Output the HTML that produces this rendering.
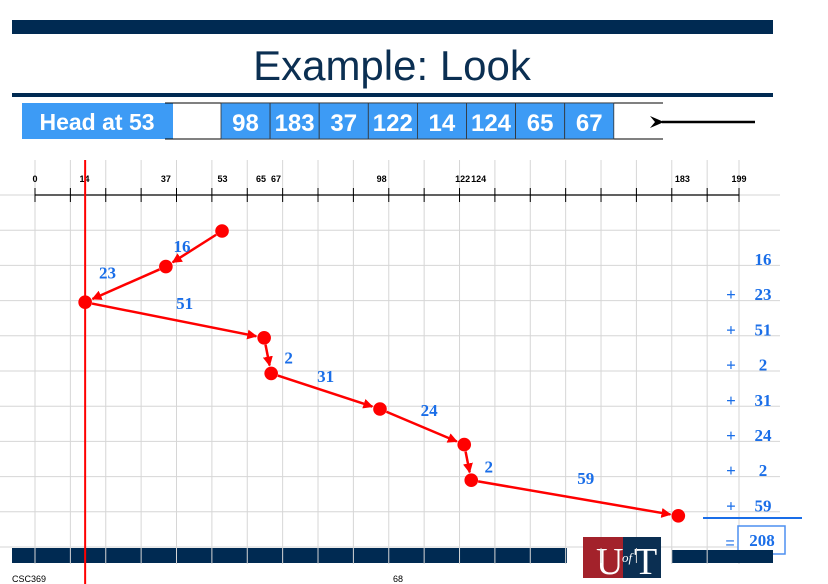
<!DOCTYPE html>
<html><head><meta charset="utf-8"><style>
body{margin:0;width:828px;height:584px;overflow:hidden;background:#fff;font-family:"Liberation Sans",sans-serif}
svg{display:block}
</style></head><body>
<svg id="c" width="828" height="584" xmlns="http://www.w3.org/2000/svg">
<defs><marker id="ah" markerWidth="10" markerHeight="10" refX="9" refY="5" orient="auto" markerUnits="userSpaceOnUse"><path d="M0,0 L10,5 L0,10 z" fill="#f00"/></marker>
<marker id="bh" markerWidth="14" markerHeight="12" refX="2" refY="6" orient="auto" markerUnits="userSpaceOnUse"><path d="M14,0 L0,6 L14,12 L9,6 z" fill="#000"/></marker></defs>
<g id="grid"></g>
<rect x="12" y="20" width="761" height="14" fill="#002a52"/>
<text x="392" y="80" text-anchor="middle" font-size="42" fill="#0b2f52">Example: Look</text>
<rect x="12" y="93" width="761" height="4" fill="#002a52"/>
<g id="queue">
<rect x="22" y="103" width="151" height="36" fill="#3d9bf5"/>
<text x="97" y="130" text-anchor="middle" font-size="23" font-weight="bold" fill="#fff">Head at 53</text>
<line x1="165" y1="103" x2="663" y2="103" stroke="#000"/><line x1="165" y1="139" x2="663" y2="139" stroke="#000"/>
<line x1="755" y1="122" x2="662" y2="122" stroke="#000" stroke-width="2.5" marker-end="url(#bh)"/>
</g>
<g id="axis"></g>
<g id="marks"></g>
<g id="sum"></g>
<rect x="583" y="537" width="78" height="41" fill="#0b2f52"/>
<rect x="583" y="537" width="40" height="41" fill="#a3222b"/>
<text x="596" y="574" font-family="Liberation Serif,serif" font-size="38" fill="#fff">U</text>
<text x="622" y="562" font-family="Liberation Serif,serif" font-style="italic" font-size="13" fill="#fff">of</text>
<text x="634" y="574" font-family="Liberation Serif,serif" font-size="38" fill="#fff">T</text>
<text x="12" y="582" font-size="9" fill="#000">CSC369</text>
<text x="393" y="582" font-size="9" fill="#000">68</text>
</svg>
<script>
const queue=[98,183,37,122,14,124,65,67];
const path=[53,37,14,65,67,98,122,124,183];
const seeks=[16,23,51,2,31,24,2,59];
const tickLabels=[0,14,37,53,65,67,98,122,124,183,199];
const total=208;
const NS="http://www.w3.org/2000/svg";
const svg=document.getElementById('c');
function el(t,a,p){const e=document.createElementNS(NS,t);for(const k in a)e.setAttribute(k,a[k]);(p||svg).appendChild(e);return e;}
const x=v=>35+v*704/199;
const px=v=>36+v*3.51;
const y=i=>231+i*35.6;
const g=document.getElementById('grid');
for(let v=0;v<=190;v+=10){const l=el('line',{x1:x(v),y1:160,x2:x(v),y2:564,stroke:'#d6d6d6'},g);}
el('line',{x1:x(199),y1:160,x2:x(199),y2:564,stroke:'#d6d6d6'},g);
for(let r=0;r<11;r++){const l=el('line',{x1:0,y1:195+r*35.2,x2:780,y2:195+r*35.2,stroke:'#d6d6d6'},g);}
const bb=el('rect',{x:12,y:548,width:555,height:15,fill:'#002a52'});
el('rect',{x:672,y:550,width:101,height:13,fill:'#002a52'});
for(let v=0;v<=190;v+=10)el('line',{x1:x(v),y1:548,x2:x(v),y2:563,stroke:'#d6d6d6'});
const q=document.getElementById('queue');
queue.forEach((v,i)=>{const cx=221+i*49.1;
const r=el('rect',{x:cx,y:103,width:49.1,height:36,fill:'#3d9bf5',stroke:'#333','stroke-width':0.8},q);
const t=el('text',{x:cx+24.5,y:131,'text-anchor':'middle','font-size':24,'font-weight':'bold',fill:'#fff'},q);t.textContent=v;});
const a=document.getElementById('axis');
el('line',{x1:x(0),y1:195,x2:x(199),y2:195,stroke:'#000','stroke-width':1.2},a);
for(let v=0;v<=190;v+=10)el('line',{x1:x(v),y1:188,x2:x(v),y2:202,stroke:'#000'},a);
el('line',{x1:x(199),y1:188,x2:x(199),y2:202,stroke:'#000'},a);
tickLabels.forEach(v=>{const t=el('text',{x:x(v)+(v==65?-4:v==67?4:v==122?-4:v==124?5:0),y:182,'text-anchor':'middle','font-size':9,'font-weight':'bold',fill:'#000'},a);t.textContent=v;});
const hl=el('line',{x1:px(14),y1:160,x2:px(14),y2:584,stroke:'#f00','stroke-width':2});
const m=document.getElementById('marks');
const lblOff=[[-12,3],[-18,-6],[10,-11],[21,8],[0,-9],[7,-11],[21,10],[11,-14]];
for(let i=0;i<path.length-1;i++){
 const x1=px(path[i]),y1=y(i),x2=px(path[i+1]),y2=y(i+1);
 const dx=x2-x1,dy=y2-y1,L=Math.hypot(dx,dy),s=7,e=8;
 const l=el('line',{x1:x1+dx/L*s,y1:y1+dy/L*s,x2:x2-dx/L*e,y2:y2-dy/L*e,stroke:'#f00','stroke-width':2.5,'marker-end':'url(#ah)'},m);
 
 const t=el('text',{x:(x1+x2)/2+lblOff[i][0],y:(y1+y2)/2+lblOff[i][1],'text-anchor':'middle','font-family':'Liberation Serif,serif','font-size':17,'font-weight':'bold',fill:'#1a6ee8'},m);
 t.textContent=seeks[i];
}
path.forEach((v,i)=>{const c=el('circle',{cx:px(v),cy:y(i),r:6.8,fill:'#f00'},m);});
const s=document.getElementById('sum');
seeks.forEach((v,i)=>{const yy=265+i*35.2;
 if(i>0){const p=el('text',{x:731,y:yy,'text-anchor':'middle','font-family':'Liberation Serif,serif','font-size':17,'font-weight':'bold',fill:'#1a6ee8'},s);p.textContent='+';}
 const t=el('text',{x:763,y:yy,'text-anchor':'middle','font-family':'Liberation Serif,serif','font-size':17,'font-weight':'bold',fill:'#1a6ee8'},s);t.textContent=v;});
el('line',{x1:703,y1:518,x2:802,y2:518,stroke:'#1a6ee8','stroke-width':2},s);
const eq=el('text',{x:730,y:548,'text-anchor':'middle','font-size':16,fill:'#1a6ee8'},s);eq.textContent='=';
el('rect',{x:738,y:526,width:47,height:28,fill:'#fff',stroke:'#4d8ff0','stroke-width':1.5},s);
const tt=el('text',{x:762,y:546,'text-anchor':'middle','font-family':'Liberation Serif,serif','font-size':17,'font-weight':'bold',fill:'#1a6ee8'},s);tt.textContent=total;
</script>
</body></html>
